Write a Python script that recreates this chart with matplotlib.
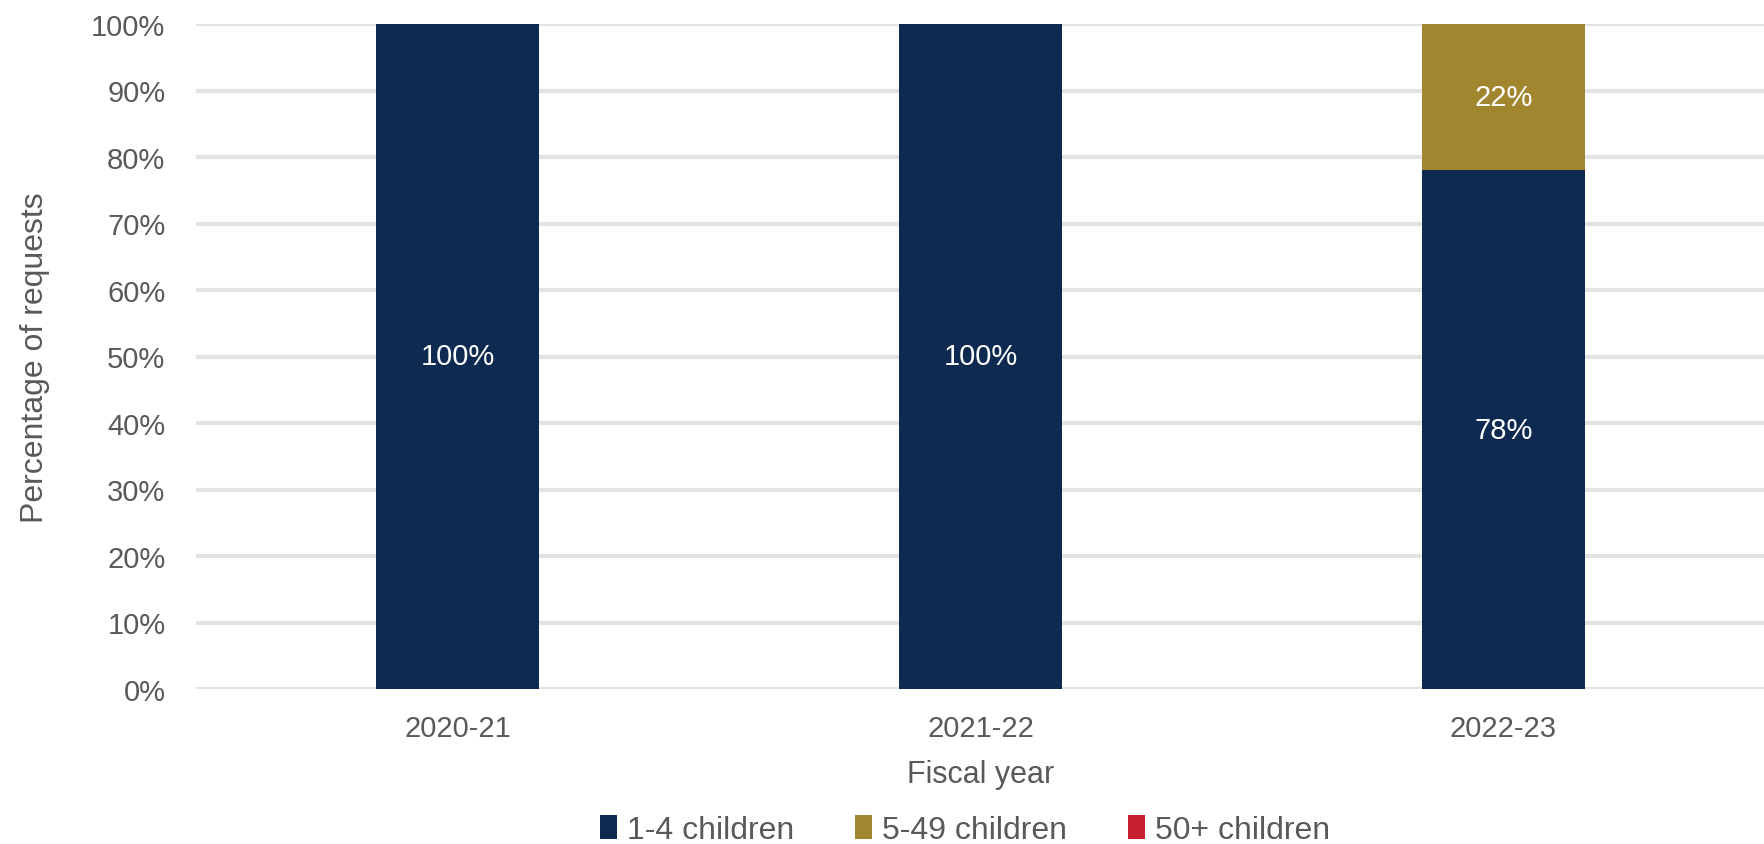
import numpy as np
import matplotlib.pyplot as plt

plt.rcParams['font.family'] = ['Liberation Sans', 'DejaVu Sans']

years = ['2020-21', '2021-22', '2022-23']
series_names = ['1-4 children', '5-49 children', '50+ children']
small = [100, 100, 78]
medium = [0, 0, 22]
large = [0, 0, 0]
colors = ['#0e2a50', '#a2852f', '#c8202f']

text_grey = '#595959'

fig = plt.figure(figsize=(17.65, 8.45), dpi=100)
ax = fig.add_axes([196 / 1765, 1 - 690 / 845, (1765 - 196) / 1765, (690 - 25) / 845])

x = np.arange(len(years))
bar_width = 0.31
bottom = np.zeros(len(years))
for vals, name, col in zip([small, medium, large], series_names, colors):
    vals = np.array(vals, dtype=float)
    ax.bar(x, vals, bar_width, bottom=bottom, color=col, label=name, zorder=3)
    # value labels inside each segment
    for xi, v, b in zip(x, vals, bottom):
        if v > 0:
            ax.text(xi, b + v / 2, f'{v:.0f}%', ha='center', va='center',
                    color='white', fontsize=21, zorder=4)
    bottom += vals

ax.set_xlim(-0.5, len(years) - 0.5)
ax.set_ylim(0, 100)
ax.set_yticks(np.arange(0, 101, 10))
ax.set_yticklabels([f'{t}%' for t in range(0, 101, 10)])
ax.set_xticks(x)
ax.set_xticklabels(years)
ax.tick_params(axis='both', length=0, labelsize=21, colors=text_grey)
ax.tick_params(axis='y', pad=22)
ax.tick_params(axis='x', pad=18)
ax.grid(axis='y', color='#e3e3e3', linewidth=3, zorder=0)
ax.set_axisbelow(True)
for s in ax.spines.values():
    s.set_visible(False)

ax.set_xlabel('Fiscal year', fontsize=22, color=text_grey, labelpad=12)
ax.set_ylabel('Percentage of requests', fontsize=23, color=text_grey, labelpad=30)

ax.legend(loc='center', bbox_to_anchor=(0.49, -0.212), ncol=3, frameon=False,
          fontsize=23, labelcolor=text_grey, handlelength=0.55, handleheight=0.8,
          handletextpad=0.3, columnspacing=1.9)

fig.savefig('out.png', dpi=100)
